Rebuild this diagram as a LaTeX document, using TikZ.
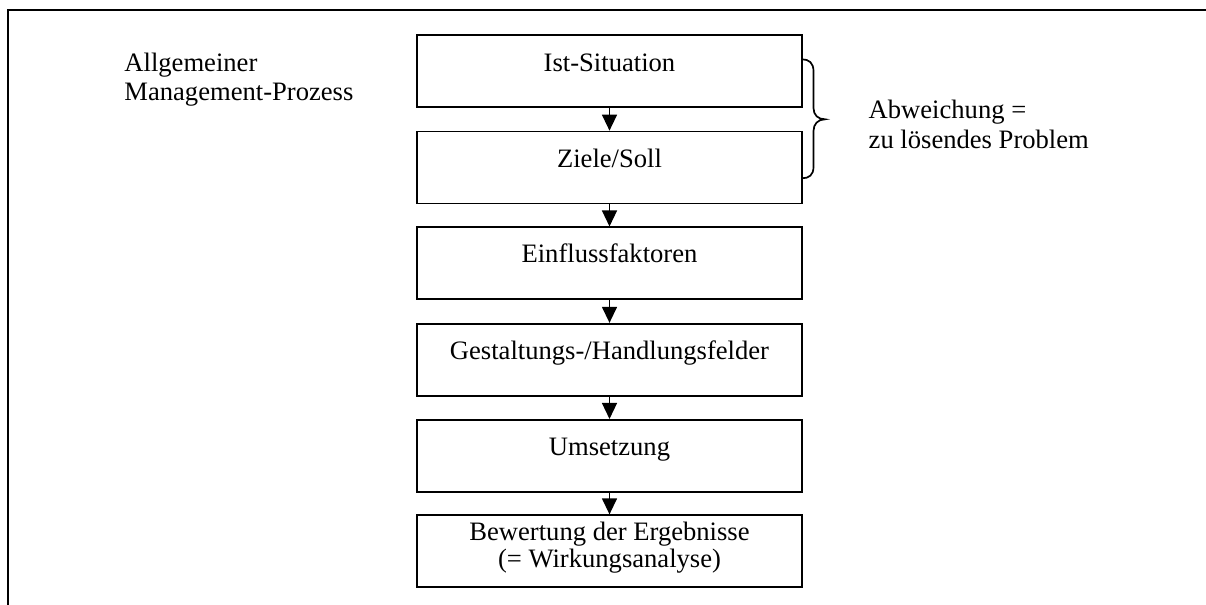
\documentclass[tikz,border=0pt]{standalone}
\usepackage{fontspec}
\setmainfont{Liberation Serif}
\usetikzlibrary{arrows.meta}
\begin{document}
\begin{tikzpicture}[x=0.5pt,y=-0.5pt,
  box/.style={draw,line width=0.85pt,minimum width=192.5pt,minimum height=36pt,inner sep=0pt},
  btxt/.style={anchor=base,inner sep=0pt,font=\fontsize{13.3pt}{11.5pt}\selectfont,align=center},
  side/.style={anchor=base west,inner sep=0pt,font=\fontsize{13.3pt}{15pt}\selectfont,align=left},
  flow/.style={line width=0.7pt,-{Triangle[width=7.5pt,length=8pt]}}]
\useasboundingbox (0,0) rectangle (1206,605);
% frame
\draw[line width=1pt] (7.5,605) -- (7.5,10) -- (1206,10);
% boxes
\node[box] (b1) at (609.5,71) {};
\node[box] (b2) at (609.5,167.5) {};
\node[box] (b3) at (609.5,263.3) {};
\node[box] (b4) at (609.5,359.7) {};
\node[box] (b5) at (609.5,455.8) {};
\node[box] (b6) at (609.5,551.2) {};
% box texts
\node[btxt] (t1) at (609.5,71.7) {Ist-Situation};
\node[btxt] (t2) at (609.5,167.5) {Ziele/Soll};
\node[btxt] (t3) at (609.5,262.7) {Einflussfaktoren};
\node[btxt] (t4) at (609.5,359) {Gestaltungs-/Handlungsfelder};
\node[btxt] (t5) at (609.5,455.5) {Umsetzung};
\node[btxt] (t6) at (609.5,567) {Bewertung der Ergebnisse\\(= Wirkungsanalyse)};
% arrows
\draw[flow] (b1.south) -- (b2.north);
\draw[flow] (b2.south) -- (b3.north);
\draw[flow] (b3.south) -- (b4.north);
\draw[flow] (b4.south) -- (b5.north);
\draw[flow] (b5.south) -- (b6.north);
% side texts
\node[side,font=\fontsize{13.3pt}{14.5pt}\selectfont] (left) at (124,100) {Allgemeiner\\Management-Prozess};
\node[side] (right) at (868.3,148.3) {Abweichung =\\zu lösendes Problem};
% brace
\draw[line width=0.85pt] (802,59.3) .. controls (809,59.3) and (813.5,63) .. (813.5,71)
  -- (813.5,108) .. controls (813.5,115) and (818,119.3) .. (825,119.3)
  .. controls (818,119.3) and (813.5,124) .. (813.5,131)
  -- (813.5,167) .. controls (813.5,175) and (809,178.3) .. (802,178.3);
\end{tikzpicture}
\end{document}
